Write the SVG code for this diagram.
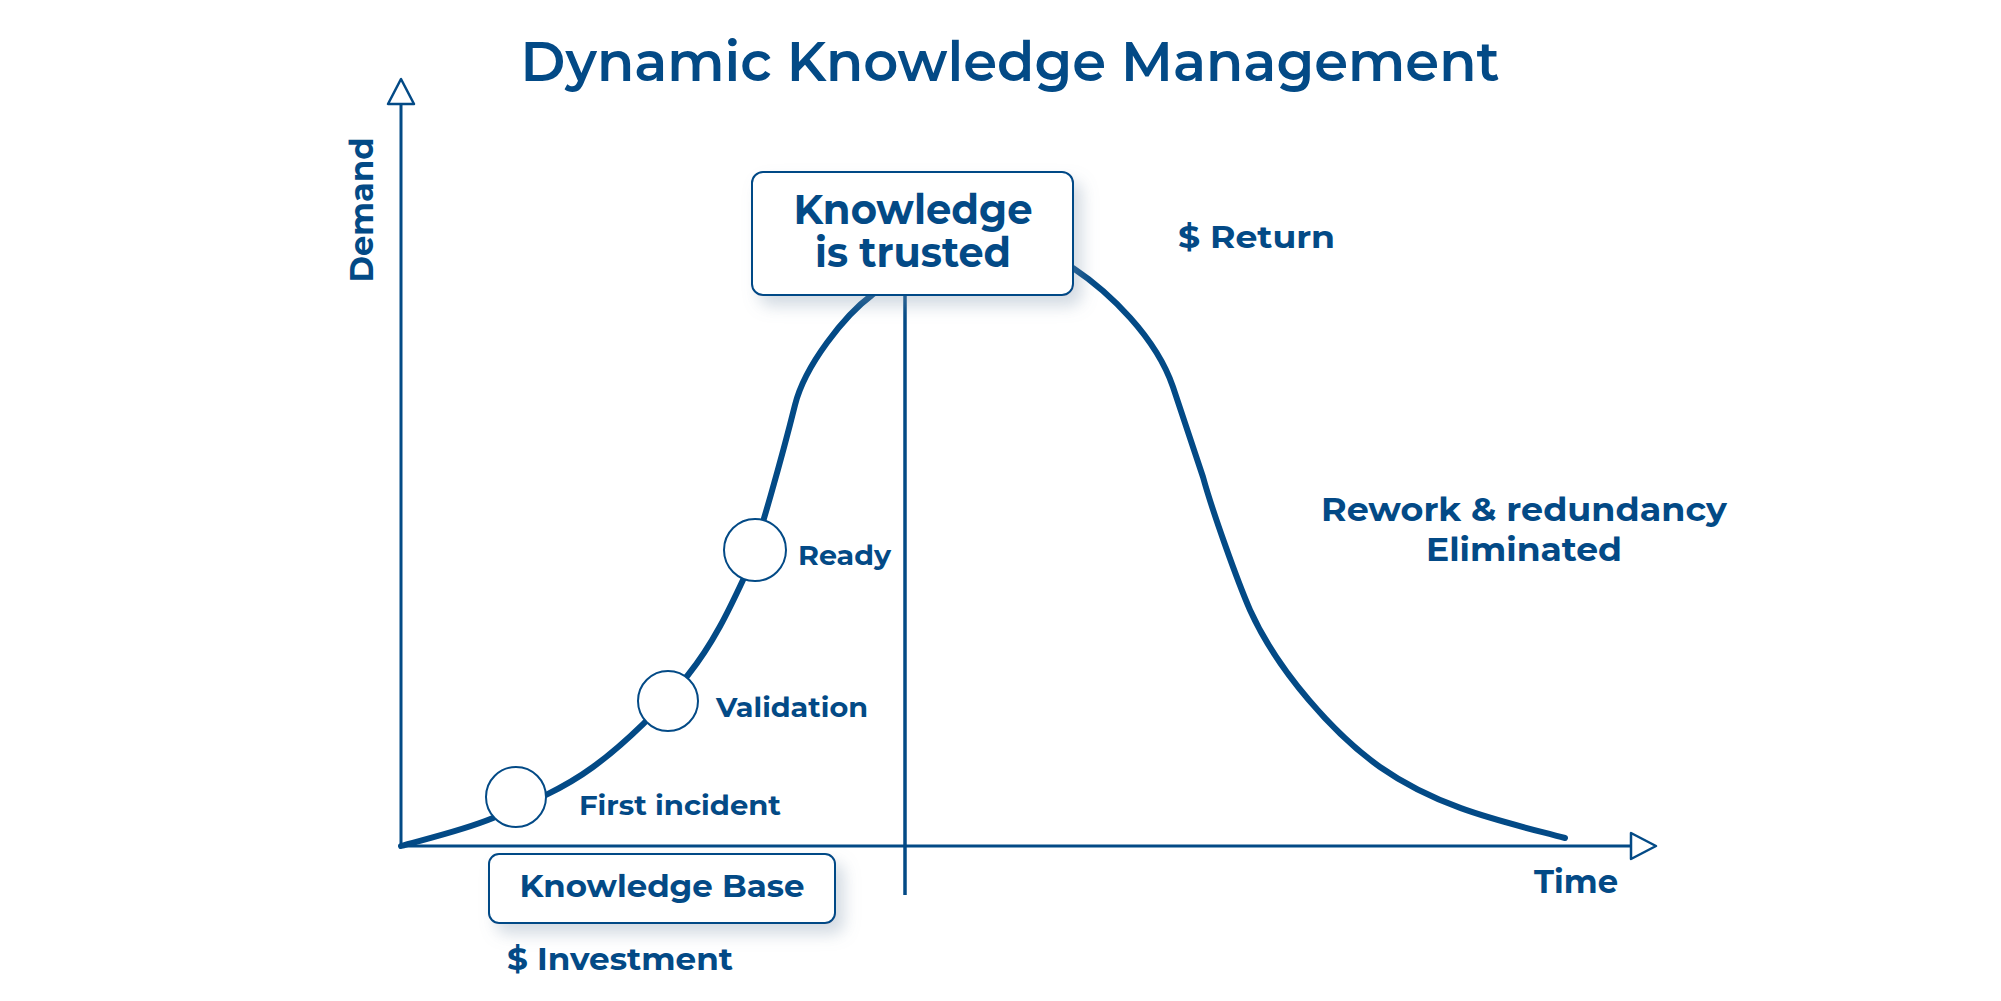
<svg xmlns="http://www.w3.org/2000/svg" width="2001" height="1001" viewBox="0 0 2001 1001">
<defs>
<filter id="shadow" x="-20%" y="-30%" width="150%" height="180%">
<feDropShadow dx="8" dy="10" stdDeviation="8" flood-color="#7f95ad" flood-opacity="0.35"/>
</filter>
<style>
.t{font-family:Montserrat,"Noto Sans","Open Sans","Liberation Sans",sans-serif;font-weight:700;fill:#034a86}
.title{font-weight:600}
.axis{stroke:#034a86;stroke-width:3;fill:none}
.arrow{stroke:#034a86;stroke-width:2.5;fill:#fff;stroke-linejoin:round}
.curve{stroke:#034a86;stroke-width:6;fill:none;stroke-linecap:round;stroke-linejoin:round}
.dot{fill:#fff;stroke:#034a86;stroke-width:2}
.box{fill:#fff;stroke:#034a86;stroke-width:2;filter:url(#shadow)}
</style>
</defs>
<rect width="2001" height="1001" fill="#fff"/>
<g id="title">
<text class="t title" x="1010" y="81" font-size="56" text-anchor="middle" textLength="979" lengthAdjust="spacingAndGlyphs">Dynamic Knowledge Management</text>
</g>
<g id="connectors">
<line class="axis" x1="401" y1="846" x2="401" y2="104"/>
<polygon class="arrow" points="401,79 388,104 414,104"/>
<line class="axis" x1="401" y1="846" x2="1631" y2="846"/>
<polygon class="arrow" points="1656,846 1631,833 1631,859"/>
<path class="curve" d="M401,846 C416.3,841.3 461,831.2 493,818 C525,804.8 560.5,790.8 593,767 C625.5,743.2 663,706.2 688,675 C713,643.8 729,610 743,580 C757,550 786,441 795,405 C805,365 845,315 872,295 C900,273 940,256 975,254 C1010,252 1045,252 1073,268 C1109,292 1156,337 1173,387 C1183,417 1193,447 1203,477 C1212,510 1237,580 1250,610 C1278,672 1335,735 1380,767 C1440,809 1505,822 1565,838"/>
<line class="axis" x1="905" y1="295" x2="905" y2="895" style="stroke-width:3.5"/>
</g>
<g id="axis-labels">
<text class="t" x="373" y="210" font-size="33" text-anchor="middle" transform="rotate(-90 373 210)" textLength="145" lengthAdjust="spacingAndGlyphs">Demand</text>
<text class="t" x="1576" y="893" font-size="33" text-anchor="middle" textLength="84" lengthAdjust="spacingAndGlyphs">Time</text>
</g>
<g id="node-trusted">
<rect class="box" x="752" y="172" width="321" height="123" rx="11"/>
<text class="t" x="913" y="224" font-size="41" text-anchor="middle" textLength="239" lengthAdjust="spacingAndGlyphs">Knowledge</text>
<text class="t" x="913" y="267" font-size="41" text-anchor="middle" textLength="196" lengthAdjust="spacingAndGlyphs">is trusted</text>
</g>
<g id="node-kb">
<rect class="box" x="489" y="854" width="346" height="69" rx="10"/>
<text class="t" x="662" y="897" font-size="31" text-anchor="middle" textLength="285" lengthAdjust="spacingAndGlyphs">Knowledge Base</text>
</g>
<g id="node-first-incident">
<circle class="dot" cx="516" cy="797" r="30"/>
<text class="t" x="579" y="815" font-size="28" textLength="202" lengthAdjust="spacingAndGlyphs">First incident</text>
</g>
<g id="node-validation">
<circle class="dot" cx="668" cy="701" r="30"/>
<text class="t" x="716" y="717" font-size="28" textLength="152" lengthAdjust="spacingAndGlyphs">Validation</text>
</g>
<g id="node-ready">
<circle class="dot" cx="755" cy="550" r="31"/>
<text class="t" x="798" y="565" font-size="28" textLength="93" lengthAdjust="spacingAndGlyphs">Ready</text>
</g>
<g id="labels">
<text class="t" x="1178" y="248" font-size="30" textLength="157" lengthAdjust="spacingAndGlyphs">$ Return</text>
<text class="t" x="1524" y="521" font-size="33" text-anchor="middle" textLength="406" lengthAdjust="spacingAndGlyphs">Rework &amp; redundancy</text>
<text class="t" x="1524" y="561" font-size="33" text-anchor="middle" textLength="196" lengthAdjust="spacingAndGlyphs">Eliminated</text>
<text class="t" x="507" y="970" font-size="31" textLength="226" lengthAdjust="spacingAndGlyphs">$ Investment</text>
</g>
</svg>
